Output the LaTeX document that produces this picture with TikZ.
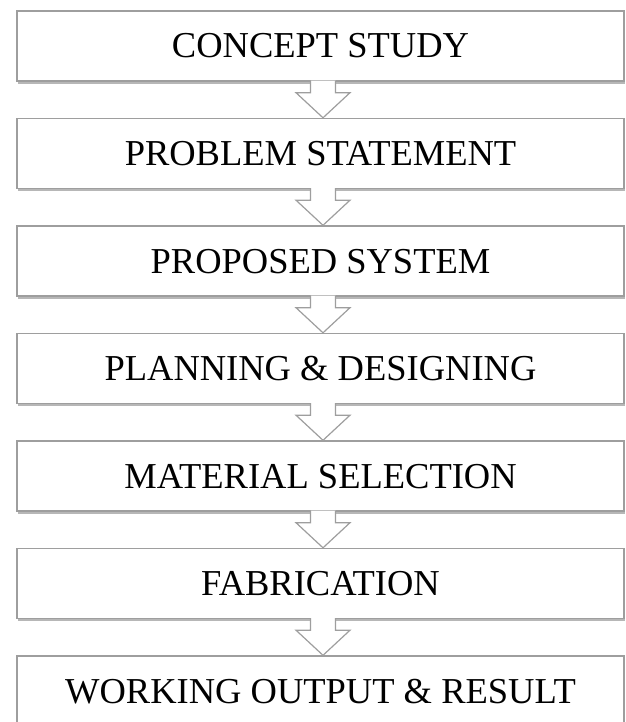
\documentclass[tikz,border=0pt]{standalone}
\usepackage{fontspec}
\setmainfont{Liberation Serif}
\usetikzlibrary{calc,shadows}
\tikzset{
    stepbox/.style={draw=black!38, line width=1.4pt, fill=white, minimum width=607pt, minimum height=70pt,
        inner sep=0pt, font=\fontsize{36.5}{40}\selectfont, text height=24pt, text depth=0pt,
        drop shadow={shadow xshift=0.8pt, shadow yshift=-2.6pt, opacity=0.4, fill=black!70}},
    flowarrow/.style={draw=black!38, line width=1.2pt, fill=white, line join=miter},
}

\begin{document}
\begin{tikzpicture}[x=1pt, y=-1pt]
    \useasboundingbox (0,0) rectangle (625,722);
    \newcommand\posX{320.5}
    \newcommand\stepY{107.5}

    \node[stepbox] (concept) at (\posX, 46) {CONCEPT STUDY};
    \node[stepbox] (problem) at (\posX, 46 + 1*\stepY) {PROBLEM STATEMENT};
    \node[stepbox] (proposed) at (\posX, 46 + 2*\stepY) {PROPOSED SYSTEM};
    \node[stepbox] (planning) at (\posX, 46 + 3*\stepY) {PLANNING \& DESIGNING};
    \node[stepbox] (material) at (\posX, 46 + 4*\stepY) {MATERIAL SELECTION};
    \node[stepbox] (fabrication) at (\posX, 46 + 5*\stepY) {FABRICATION};
    \node[stepbox] (result) at (\posX, 46 + 6*\stepY) {WORKING OUTPUT \& RESULT};

    % block arrows between the steps
    \foreach \a/\b in {concept/problem, problem/proposed, proposed/planning, planning/material, material/fabrication, fabrication/result}{
        \filldraw[flowarrow] ($(\a.south)+(-10,-1)$) -- ++(0,12) -- ++(-14.5,0)
            -- ($(\b.north)+(2.5,0)$)
            -- ($(\a.south)+(29.5,11)$) -- ++(-14.5,0) -- ++(0,-12);
    }
\end{tikzpicture}
\end{document}
